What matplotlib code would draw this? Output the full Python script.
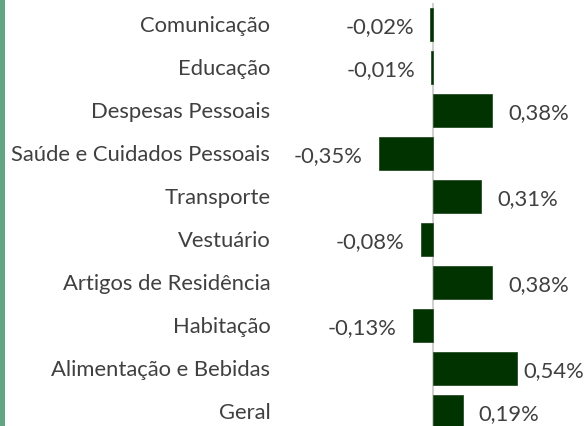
import matplotlib
matplotlib.use("Agg")
import matplotlib.pyplot as plt
from matplotlib.patches import Rectangle

categories = ["Comunicação", "Educação", "Despesas Pessoais",
              "Saúde e Cuidados Pessoais", "Transporte", "Vestuário",
              "Artigos de Residência", "Habitação", "Alimentação e Bebidas",
              "Geral"]
values = [-0.02, -0.01, 0.38, -0.35, 0.31, -0.08, 0.38, -0.13, 0.54, 0.19]
value_labels = ["-0,02%", "-0,01%", "0,38%", "-0,35%", "0,31%", "-0,08%",
                "0,38%", "-0,13%", "0,54%", "0,19%"]

W, H = 586, 426
DPI = 100
plt.rcParams['font.family'] = ['Lato', 'DejaVu Sans']
text_color = '#404040'
bar_color = '#013301'
FS = 15.8

fig = plt.figure(figsize=(W / DPI, H / DPI), dpi=DPI)
fig.patch.set_facecolor('white')

# axes in pixel geometry: zero line at x=433, 155.6 px per 1%
left_px, right_px = 280, 586
top_px, bottom_px = 3, 433
ax = fig.add_axes([left_px / W, 1 - bottom_px / H,
                   (right_px - left_px) / W, (bottom_px - top_px) / H])
ppu = 155.6
zero_px = 433
ax.set_xlim((left_px - zero_px) / ppu, (right_px - zero_px) / ppu)
ax.set_ylim(len(categories) - 0.5, -0.5)

ypos = list(range(len(categories)))
ax.barh(ypos, values, height=0.79, color=bar_color, edgecolor='#2a4f2a',
        linewidth=0.6, zorder=2)
ax.axvline(0, color='#d0d0d0', linewidth=1.5, zorder=1)

ax.set_yticks(ypos)
ax.set_yticklabels(categories, fontsize=FS, color=text_color)
ax.tick_params(axis='y', length=0, pad=7)
ax.set_xticks([])
for s in ax.spines.values():
    s.set_visible(False)
ax.patch.set_visible(False)

for y, v, lab in zip(ypos, values, value_labels):
    off = 16 / ppu
    x = v + off if v >= 0 else v - off
    ha = 'left' if v >= 0 else 'right'
    # keep label inside the figure
    if v >= 0 and (v * ppu + zero_px + 16 + 62) > W:
        x = v + 6 / ppu
    ax.text(x, y + 0.05, lab, ha=ha, va='center', fontsize=FS,
            color=text_color)

# green stripe at the left edge
fig.patches.append(Rectangle((0, 0), 5 / W, 1, transform=fig.transFigure,
                             facecolor='#62a584', edgecolor='none'))

fig.savefig("out.png", dpi=DPI)
